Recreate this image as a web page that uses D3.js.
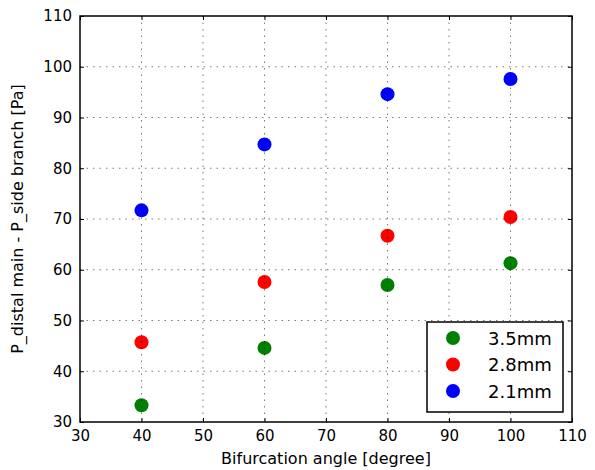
<!DOCTYPE html>
<html>
<head>
<meta charset="utf-8">
<script src="https://cdn.jsdelivr.net/npm/d3@7"></script>
<style>
  body { margin: 0; background: #fff; }
  text { font-family: "DejaVu Sans", sans-serif; fill: #000; }
</style>
</head>
<body>
<svg id="chart_svg" width="595" height="470"></svg>
<script>
// data
var angles = [40, 60, 80, 100];
var series_names = ["3.5mm", "2.8mm", "2.1mm"];
var series_colors = ["#008000", "#ff0000", "#0000ff"];
var values_35 = [33.3, 44.6, 57.0, 61.3];
var values_28 = [45.7, 57.6, 66.7, 70.4];
var values_21 = [71.7, 84.7, 94.6, 97.6];
var x_ticks = [30, 40, 50, 60, 70, 80, 90, 100, 110];
var y_ticks = [30, 40, 50, 60, 70, 80, 90, 100, 110];

var margin = {top: 16, right: 23, bottom: 48, left: 80};
var width = 595 - margin.left - margin.right;
var height = 470 - margin.top - margin.bottom;

var base = d3.select('#chart_svg');
var plot = base.append("g")
                .attr("transform", "translate(" + margin.left + "," + margin.top + ")");

var x = d3.scaleLinear().domain([30, 110]).range([0, width]);
var y = d3.scaleLinear().domain([30, 110]).range([height, 0]);

// points (drawn under the grid, like matplotlib classic)
var allSeries = [values_35, values_28, values_21];
allSeries.forEach(function(vals, i) {
    plot.selectAll(".pt" + i)
        .data(vals)
        .enter().append("circle")
        .attr("cx", function(d, j) { return x(angles[j]); })
        .attr("cy", function(d) { return y(d); })
        .attr("r", 7)
        .attr("fill", series_colors[i]);
});

// grid
plot.selectAll(".vgrid")
    .data(x_ticks.slice(1, -1))
    .enter().append("line")
    .attr("x1", function(d) { return x(d); })
    .attr("x2", function(d) { return x(d); })
    .attr("y1", 0).attr("y2", height)
    .attr("stroke", "#000").attr("stroke-width", 0.8)
    .attr("stroke-dasharray", "1.5,5").attr("opacity", 0.65);
plot.selectAll(".hgrid")
    .data(y_ticks.slice(1, -1))
    .enter().append("line")
    .attr("y1", function(d) { return y(d); })
    .attr("y2", function(d) { return y(d); })
    .attr("x1", 0).attr("x2", width)
    .attr("stroke", "#000").attr("stroke-width", 0.8)
    .attr("stroke-dasharray", "1.5,5").attr("opacity", 0.65);

// axes with inward ticks on all sides
var bottomAxis = plot.append("g")
    .attr("transform", "translate(0," + height + ")")
    .call(d3.axisBottom(x).tickValues(x_ticks).tickSizeInner(-4).tickSizeOuter(0).tickPadding(8));
var topAxis = plot.append("g")
    .call(d3.axisTop(x).tickValues(x_ticks).tickSizeInner(-4).tickSizeOuter(0).tickFormat(""));
var leftAxis = plot.append("g")
    .call(d3.axisLeft(y).tickValues(y_ticks).tickSizeInner(-4).tickSizeOuter(0).tickPadding(8));
var rightAxis = plot.append("g")
    .attr("transform", "translate(" + width + ",0)")
    .call(d3.axisRight(y).tickValues(y_ticks).tickSizeInner(-4).tickSizeOuter(0).tickFormat(""));

[bottomAxis, topAxis, leftAxis, rightAxis].forEach(function(a) {
    a.select(".domain").remove();
    a.selectAll("line").attr("stroke", "#000").attr("stroke-width", 1);
    a.selectAll("text").attr("font-size", "15px").attr("font-family", "DejaVu Sans");
});

// frame
plot.append("rect")
    .attr("width", width).attr("height", height)
    .attr("fill", "none").attr("stroke", "#000").attr("stroke-width", 1.5);

// axis titles
base.append("text")
    .text("Bifurcation angle [degree]")
    .attr("x", margin.left + width / 2)
    .attr("y", 464)
    .attr("font-size", "16px")
    .attr("text-anchor", "middle");
base.append("text")
    .text("P_distal main - P_side branch [Pa]")
    .attr("transform", "translate(23," + (margin.top + height / 2) + ") rotate(-90)")
    .attr("font-size", "16px")
    .attr("text-anchor", "middle");

// legend
var legendGroup = base.append("g")
    .attr("transform", "translate(427,322)");
legendGroup.append("rect")
    .attr("width", 136).attr("height", 90)
    .attr("fill", "#fff").attr("stroke", "#000").attr("stroke-width", 1.5);
series_names.forEach(function(name, i) {
    var row = legendGroup.append("g")
        .attr("transform", "translate(0," + (16 + i * 26.5) + ")");
    row.append("circle")
        .attr("cx", 26).attr("cy", 0).attr("r", 7)
        .attr("fill", series_colors[i]);
    row.append("text")
        .text(name)
        .attr("x", 61).attr("y", 0)
        .attr("font-size", "18px")
        .attr("dominant-baseline", "central");
});
</script>
</body>
</html>
